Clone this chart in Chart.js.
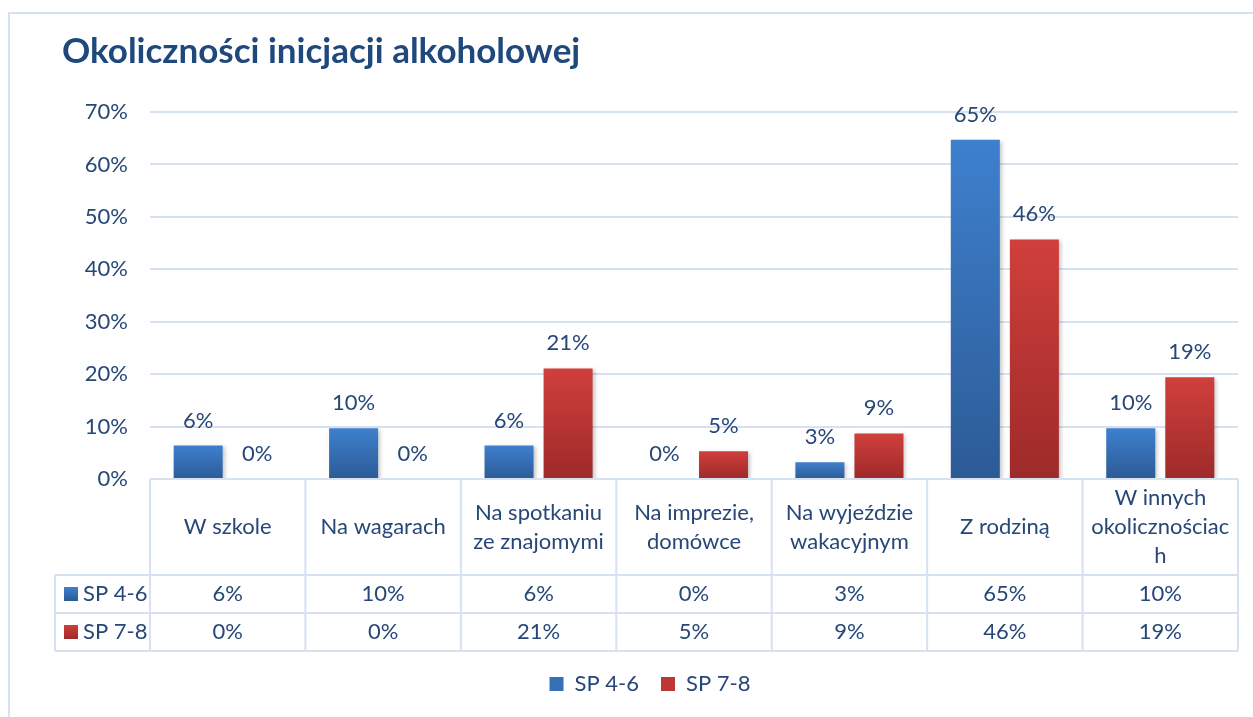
<!DOCTYPE html>
<html>
<head>
<meta charset="utf-8">
<script src="https://cdn.jsdelivr.net/npm/chart.js@4"></script>
<style>
  html, body { margin: 0; padding: 0; background: #ffffff; }
  #wrap { width: 1253px; height: 717px; position: relative; }
</style>
</head>
<body>
<div id="wrap"><canvas id="c"></canvas></div>
<script>
// ---- data ----
const title = 'Okoliczności inicjacji alkoholowej';
const categories = [
  ['W szkole'],
  ['Na wagarach'],
  ['Na spotkaniu', 'ze znajomymi'],
  ['Na imprezie,', 'domówce'],
  ['Na wyjeździe', 'wakacyjnym'],
  ['Z rodziną'],
  ['W innych', 'okolicznościac', 'h']
];
const seriesNames = ['SP 4-6', 'SP 7-8'];
const sp46 = [6.4, 9.7, 6.4, 0, 3.2, 64.7, 9.7];
const sp78 = [0, 0, 21.1, 5.3, 8.7, 45.7, 19.4];
const yTicks = [0, 10, 20, 30, 40, 50, 60, 70];

// ---- styles ----
const FONT = 'Lato, "Open Sans", sans-serif';
const FS = 22;
const TEXT = '#264778';
const LINE = '#D6E2F2';
const COLORS = [
  { top: '#3E80CE', bottom: '#2C5B96', mid: '#3570B8' },
  { top: '#D03F3C', bottom: '#9D2A29', mid: '#BC3735' }
];

function barGradient(ctx, col) {
  const chart = ctx.chart;
  const v = ctx.raw;
  if (!chart.chartArea || typeof v !== 'number') return col.mid;
  const ys = chart.scales.y;
  const y0 = ys.getPixelForValue(v);
  const y1 = ys.getPixelForValue(0);
  if (!(y1 - y0 > 1)) return col.mid;
  const g = chart.ctx.createLinearGradient(0, y0, 0, y1);
  g.addColorStop(0, col.top);
  g.addColorStop(1, col.bottom);
  return g;
}

const frame = {
  id: 'frame',
  beforeDraw(chart) {
    const c = chart.ctx;
    c.save();
    c.fillStyle = '#ffffff';
    c.fillRect(0, 0, chart.width, chart.height);
    c.strokeStyle = LINE;
    c.lineWidth = 2;
    c.strokeRect(9, 13, chart.width + 20, chart.height + 20);
    c.restore();
  }
};

const shadow = {
  id: 'shadow',
  beforeDatasetsDraw(chart) {
    const c = chart.ctx;
    c.save();
    c.shadowColor = 'rgba(0,0,0,0.22)';
    c.shadowBlur = 4;
    c.shadowOffsetX = 2;
    c.shadowOffsetY = 2;
  },
  afterDatasetsDraw(chart) {
    chart.ctx.restore();
  }
};

const valueLabels = {
  id: 'valueLabels',
  afterDatasetsDraw(chart) {
    const c = chart.ctx;
    c.save();
    c.font = FS + 'px ' + FONT;
    c.fillStyle = TEXT;
    c.textAlign = 'center';
    c.textBaseline = 'middle';
    chart.data.datasets.forEach((ds, di) => {
      const meta = chart.getDatasetMeta(di);
      meta.data.forEach((bar, i) => {
        c.fillText(Math.round(ds.data[i]) + '%', bar.x, bar.y - 25);
      });
    });
    c.restore();
  }
};

const dataTable = {
  id: 'dataTable',
  afterDraw(chart) {
    const c = chart.ctx;
    const xs = chart.scales.x;
    const area = chart.chartArea;
    const n = categories.length;
    const cw = (area.right - area.left) / n;
    const top = area.bottom;
    const hdrBottom = top + 96;
    const rowH = 38;
    const r1 = hdrBottom + rowH;
    const r2 = r1 + rowH;
    const legLeft = 55;
    c.save();
    c.strokeStyle = LINE;
    c.lineWidth = 2;
    c.beginPath();
    c.moveTo(area.left, top); c.lineTo(area.right, top);
    c.moveTo(legLeft, hdrBottom); c.lineTo(area.right, hdrBottom);
    c.moveTo(legLeft, r1); c.lineTo(area.right, r1);
    c.moveTo(legLeft, r2); c.lineTo(area.right, r2);
    for (let i = 0; i <= n; i++) {
      const x = area.left + i * cw;
      c.moveTo(x, top); c.lineTo(x, r2);
    }
    c.moveTo(legLeft, hdrBottom); c.lineTo(legLeft, r2);
    c.stroke();

    c.font = FS + 'px ' + FONT;
    c.fillStyle = TEXT;
    c.textAlign = 'center';
    c.textBaseline = 'middle';
    const lh = 29;
    categories.forEach((lines, i) => {
      const cx = xs.getPixelForValue(i);
      const cy = (top + hdrBottom) / 2;
      const y0 = cy - (lines.length - 1) * lh / 2;
      lines.forEach((t, k) => c.fillText(t, cx, y0 + k * lh));
    });
    const series = [sp46, sp78];
    series.forEach((arr, si) => {
      const cy = hdrBottom + rowH * si + rowH / 2;
      arr.forEach((v, i) => {
        c.fillText(Math.round(v) + '%', xs.getPixelForValue(i), cy);
      });
      const col = COLORS[si];
      const g = c.createLinearGradient(0, cy - 7, 0, cy + 7);
      g.addColorStop(0, col.top); g.addColorStop(1, col.bottom);
      c.fillStyle = g;
      c.fillRect(64, cy - 7, 14, 14);
      c.fillStyle = TEXT;
      c.textAlign = 'left';
      c.fillText(seriesNames[si], 83, cy);
      c.textAlign = 'center';
    });
    c.restore();
  }
};

new Chart(document.getElementById('c'), {
  type: 'bar',
  data: {
    labels: categories.map(l => l.join(' ')),
    datasets: [
      { label: seriesNames[0], data: sp46, backgroundColor: ctx => barGradient(ctx, COLORS[0]) },
      { label: seriesNames[1], data: sp78, backgroundColor: ctx => barGradient(ctx, COLORS[1]) }
    ]
  },
  options: {
    responsive: true,
    maintainAspectRatio: false,
    animation: false,
    datasets: { bar: { categoryPercentage: 0.76, barPercentage: 0.83 } },
    layout: { padding: { top: 0, left: 62, right: 15, bottom: 12 } },
    plugins: {
      title: {
        display: true,
        text: title,
        align: 'start',
        color: '#1F487C',
        font: { family: FONT, size: 35, weight: 'bold', lineHeight: 1.2 },
        padding: { top: 31, bottom: 39 }
      },
      legend: {
        display: true,
        position: 'bottom',
        labels: {
          color: TEXT,
          font: { family: FONT, size: FS },
          boxWidth: 14,
          boxHeight: 14,
          padding: 22,
          generateLabels(chart) {
            return chart.data.datasets.map((ds, i) => ({
              text: ds.label,
              fillStyle: COLORS[i].mid,
              strokeStyle: COLORS[i].mid,
              lineWidth: 0,
              datasetIndex: i,
              fontColor: TEXT
            }));
          }
        }
      },
      tooltip: { enabled: false }
    },
    scales: {
      x: {
        grid: { display: false },
        border: { display: false },
        ticks: { display: false },
        afterFit(scale) { scale.height = 172; }
      },
      y: {
        min: 0,
        max: 70,
        afterBuildTicks(scale) { scale.ticks = yTicks.map(v => ({ value: v })); },
        grid: { color: LINE, lineWidth: 2, drawTicks: false },
        border: { display: false },
        ticks: {
          padding: 22,
          color: TEXT,
          font: { family: FONT, size: FS },
          callback: v => v + '%'
        },
        afterFit(scale) { scale.width = 88; }
      }
    }
  },
  plugins: [frame, shadow, valueLabels, dataTable]
});
</script>
</body>
</html>
